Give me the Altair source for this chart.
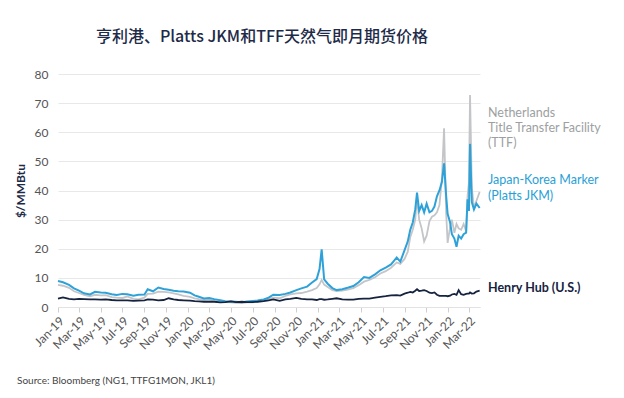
import altair as alt
import pandas as pd

dates = [
    "2019-01-01", "2019-01-15", "2019-02-01", "2019-02-15", "2019-03-01", "2019-03-15",
    "2019-04-01", "2019-04-15", "2019-05-01", "2019-05-15", "2019-06-01", "2019-06-15",
    "2019-07-01", "2019-07-15", "2019-08-01", "2019-08-15", "2019-09-01", "2019-09-10",
    "2019-09-25", "2019-10-10", "2019-10-25", "2019-11-08", "2019-11-22", "2019-12-05",
    "2019-12-20",
    "2020-01-07", "2020-01-20", "2020-02-01", "2020-02-15", "2020-03-01", "2020-03-15",
    "2020-04-01", "2020-04-15", "2020-05-01", "2020-05-15", "2020-06-01", "2020-06-15",
    "2020-07-01", "2020-07-15", "2020-08-01", "2020-08-15", "2020-08-28", "2020-09-15",
    "2020-10-01", "2020-10-15", "2020-11-01", "2020-11-15", "2020-12-01", "2020-12-15",
    "2020-12-28",
    "2021-01-05", "2021-01-11", "2021-01-18", "2021-01-28", "2021-02-10", "2021-02-22",
    "2021-03-10", "2021-03-25", "2021-04-10", "2021-04-25", "2021-05-10", "2021-05-25",
    "2021-06-10", "2021-06-25", "2021-07-10", "2021-07-25", "2021-08-10", "2021-08-20",
    "2021-09-01", "2021-09-10", "2021-09-17", "2021-09-24", "2021-10-01", "2021-10-06",
    "2021-10-12", "2021-10-19", "2021-10-26", "2021-11-02", "2021-11-10", "2021-11-17",
    "2021-11-24", "2021-12-01", "2021-12-08", "2021-12-15", "2021-12-21", "2021-12-27",
    "2021-12-31",
    "2022-01-07", "2022-01-12", "2022-01-19", "2022-01-25", "2022-01-31", "2022-02-07",
    "2022-02-14", "2022-02-21", "2022-02-25", "2022-03-01", "2022-03-04", "2022-03-09",
    "2022-03-15", "2022-03-22", "2022-03-31",
]

jkm = [
    8.9, 8.5, 7.6, 6.4, 5.6, 4.7, 4.3, 5.2, 5.0, 4.9, 4.4, 4.1,
    4.5, 4.4, 3.9, 4.2, 4.3, 6.1, 5.4, 6.7, 6.2, 5.9, 5.6, 5.4, 5.3,
    4.9, 4.0, 3.5, 2.9, 3.1, 2.7, 2.3, 2.0, 1.9, 1.8, 1.6, 1.9,
    2.1, 2.2, 2.6, 3.2, 4.2, 4.1, 4.5, 5.0, 5.8, 6.4, 7.0, 8.4, 9.6,
    13.0, 19.8, 9.5, 8.0, 6.5, 5.8, 6.1, 6.6, 7.2, 8.5, 10.3, 10.0,
    11.2, 12.6, 13.5, 14.6, 17.0, 15.6, 19.5, 22.5, 26.5, 29.0, 33.5, 39.3,
    33.0, 35.0, 32.5, 35.5, 32.5, 33.0, 34.5, 38.0, 40.0, 43.0, 49.3, 38.0, 32.0,
    29.0, 25.0, 23.5, 20.7, 24.5, 23.5, 25.0, 25.5, 37.0, 33.0, 56.0, 36.0,
    33.5, 35.5, 34.0,
]

ttf = [
    7.6, 7.3, 6.6, 5.4, 4.8, 4.2, 3.7, 4.2, 4.0, 4.1, 3.4, 3.2,
    3.1, 3.6, 2.8, 2.6, 3.2, 4.5, 4.6, 5.3, 5.2, 5.0, 4.7, 4.3, 3.8,
    3.5, 3.0, 2.7, 2.4, 2.5, 2.1, 1.8, 1.7, 1.6, 1.4, 1.3, 1.6,
    1.6, 1.9, 2.4, 2.8, 3.2, 3.0, 3.8, 4.3, 4.7, 4.8, 5.3, 5.8, 6.5,
    7.8, 9.3, 7.7, 6.9, 5.8, 5.5, 5.6, 6.0, 6.5, 7.5, 8.7, 9.3,
    10.2, 11.5, 12.3, 13.5, 15.3, 14.8, 16.5, 19.0, 24.0, 26.5, 30.0, 37.5,
    30.0, 27.0, 22.5, 24.5, 29.5, 31.0, 31.5, 32.5, 35.0, 44.0, 61.4, 32.0, 22.0,
    27.5, 30.0, 25.5, 28.5, 27.0, 26.5, 28.5, 26.0, 38.0, 43.0, 72.8, 41.0,
    34.0, 36.5, 39.5,
]

henry_hub = [
    2.9, 3.3, 2.8, 2.6, 2.8, 2.7, 2.6, 2.6, 2.5, 2.6, 2.4, 2.3,
    2.3, 2.3, 2.1, 2.2, 2.3, 2.6, 2.5, 2.3, 2.4, 3.0, 2.6, 2.4, 2.3,
    2.2, 2.0, 1.9, 1.8, 1.8, 1.8, 1.6, 1.7, 1.9, 1.7, 1.8, 1.7,
    1.7, 1.8, 2.0, 2.3, 2.6, 2.1, 2.6, 2.8, 3.1, 2.8, 2.6, 2.6, 2.4,
    2.7, 2.7, 2.5, 2.6, 2.8, 3.0, 2.6, 2.5, 2.5, 2.8, 2.9, 2.9,
    3.2, 3.5, 3.7, 4.0, 4.1, 3.9, 4.6, 4.9, 5.2, 5.0, 5.6, 6.1,
    5.5, 5.6, 5.8, 5.5, 4.9, 4.8, 5.0, 4.2, 3.8, 3.8, 3.8, 3.8, 3.7,
    3.9, 4.3, 4.5, 4.2, 5.8, 4.4, 4.2, 4.5, 4.6, 4.6, 5.0, 4.6,
    4.7, 5.3, 5.6,
]

series_names = ["TTF", "JKM", "Henry Hub"]
series_colors = ["#c3c5c8", "#2ea2d8", "#16233f"]

tick_dates = [
    "2019-01-01", "2019-03-01", "2019-05-01", "2019-07-01", "2019-09-01", "2019-11-01",
    "2020-01-01", "2020-03-01", "2020-05-01", "2020-07-01", "2020-09-01", "2020-11-01",
    "2021-01-01", "2021-03-01", "2021-05-01", "2021-07-01", "2021-09-01", "2021-11-01",
    "2022-01-01", "2022-03-01",
]
y_ticks = [0, 10, 20, 30, 40, 50, 60, 70, 80]

title_text = "亨利港、Platts JKM和TFF天然气即月期货价格"
y_title = "$/MMBtu"
source_text = "Source: Bloomberg (NG1, TTFG1MON, JKL1)"

label_lines = ["Netherlands", "Title Transfer Facility", "(TTF)",
               "Japan-Korea Marker", "(Platts JKM)"]
label_colors = ["#9d9fa2", "#9d9fa2", "#9d9fa2", "#2a9fd6", "#2a9fd6"]
label_y = [39, 54, 69, 106, 122]
hh_label = "Henry Hub (U.S.)"

rows = []
for name, vals in zip(series_names, [ttf, jkm, henry_hub]):
    for d, v in zip(dates, vals):
        rows.append({"date": d, "value": v, "series": name})
df = pd.DataFrame(rows)

LF = "Lato"
x_enc = alt.X(
    "date:T",
    scale=alt.Scale(domain=["2019-01-01", "2022-04-01"]),
    axis=alt.Axis(
        values=tick_dates, format="%b-%y", labelAngle=-45, title=None,
        labelFont=LF, labelFontSize=12, labelColor="#555555",
        tickColor="#cfcfcf", tickSize=5, domainColor="#e2e2e2",
        grid=False, labelPadding=3, labelOverlap=False,
    ),
)
y_enc = alt.Y(
    "value:Q",
    scale=alt.Scale(domain=[0, 80]),
    axis=alt.Axis(
        values=y_ticks, title=y_title, titleFont=LF, titleFontSize=12,
        titleColor="#1d2a48", titleFontWeight="bold", titlePadding=7,
        labelFont=LF, labelFontSize=12, labelColor="#555555", labelPadding=10,
        domain=False, ticks=False, gridColor="#e8e8e8",
    ),
)

line_layers = [
    alt.Chart(df[df.series == n]).mark_line(strokeWidth=(2 if n == "JKM" else 1.8), color=c).encode(x=x_enc, y=y_enc)
    for n, c in zip(series_names, series_colors)
]

labels_df = pd.DataFrame({"t": label_lines, "c": label_colors, "py": label_y})
labels = alt.Chart(labels_df).mark_text(
    align="left", baseline="middle", font=LF, fontSize=12.5,
).encode(
    x=alt.value(430),
    y=alt.Y("py:Q", scale=None),
    text="t:N",
    color=alt.Color("c:N", scale=None),
)

hh = alt.Chart(pd.DataFrame({"t": [hh_label]})).mark_text(
    align="left", baseline="middle", font=LF, fontSize=12.5, fontWeight="bold", color="#16233f",
).encode(x=alt.value(430), y=alt.value(214), text="t:N")

title = alt.Chart(pd.DataFrame({"t": [title_text]})).mark_text(
    align="center", baseline="middle", font="Noto Sans CJK SC", fontSize=16,
    fontWeight=500, color="#1d2a48",
).encode(x=alt.value(204), y=alt.value(-37), text="t:N")

source = alt.Chart(pd.DataFrame({"t": [source_text]})).mark_text(
    align="left", baseline="middle", font=LF, fontSize=10, color="#444444",
).encode(x=alt.value(-41), y=alt.value(307), text="t:N")

chart = alt.layer(*line_layers, labels, hh, title, source).properties(
    width=422, height=233,
    background="white",
    autosize=alt.AutoSizeParams(type="none"),
    padding={"left": 50, "top": 66, "right": 136, "bottom": 83},
).configure_view(stroke=None)

chart.save("out.html", embed_options={"renderer": "svg", "actions": False})
